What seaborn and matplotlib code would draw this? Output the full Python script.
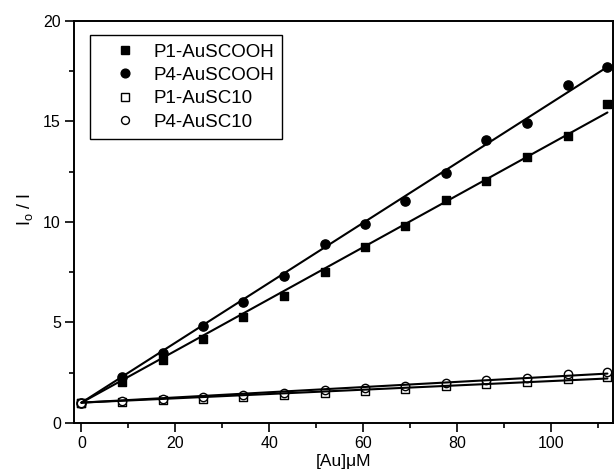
import numpy as np
import pandas as pd
import matplotlib
matplotlib.use("Agg")
import matplotlib.pyplot as plt
import seaborn as sns

# Gold concentration (µM) and quenching ratio I0/I for each probe/nanoparticle pair
au_conc = [0.0, 8.6, 17.3, 25.9, 34.5, 43.1, 51.8, 60.4, 69.0, 77.7, 86.3, 94.9, 103.6, 112.1]
p1_auscooh = [1.0, 2.03, 3.14, 4.19, 5.26, 6.29, 7.49, 8.73, 9.81, 11.09, 12.04, 13.25, 14.29, 15.87]
p4_auscooh = [1.0, 2.28, 3.49, 4.84, 6.03, 7.29, 8.92, 9.9, 11.06, 12.42, 14.08, 14.94, 16.8, 17.73]
p1_ausc10 = [1.0, 1.03, 1.12, 1.2, 1.28, 1.38, 1.49, 1.6, 1.7, 1.82, 1.94, 2.03, 2.18, 2.3]
p4_ausc10 = [1.0, 1.1, 1.2, 1.27, 1.37, 1.47, 1.61, 1.73, 1.83, 1.98, 2.15, 2.23, 2.41, 2.53]

series_names = ["P1-AuSCOOH", "P4-AuSCOOH", "P1-AuSC10", "P4-AuSC10"]
series_values = [p1_auscooh, p4_auscooh, p1_ausc10, p4_ausc10]

df = pd.concat(
    [pd.DataFrame({"conc": au_conc, "ratio": vals, "sample": name})
     for name, vals in zip(series_names, series_values)],
    ignore_index=True,
)

sns.set_style("ticks")
plt.rcParams["font.family"] = ["Liberation Sans", "DejaVu Sans"]
plt.rcParams["mathtext.fontset"] = "custom"
plt.rcParams["mathtext.rm"] = "Liberation Sans"
plt.rcParams["text.color"] = "black"
plt.rcParams["axes.labelcolor"] = "black"
plt.rcParams["xtick.color"] = "black"
plt.rcParams["ytick.color"] = "black"

fig = plt.figure(figsize=(6.14, 4.73), dpi=100)
ax = fig.add_axes([0.1205, 0.1063, 0.878, 0.8493])

styles = {
    "P1-AuSCOOH": dict(marker="s", facecolor="black", s=36),
    "P4-AuSCOOH": dict(marker="o", facecolor="black", s=44),
    "P1-AuSC10": dict(marker="s", facecolor="white", s=30),
    "P4-AuSC10": dict(marker="o", facecolor="white", s=36),
}

handles = []
for name in series_names:
    sub = df[df["sample"] == name]
    st = styles[name]
    sns.scatterplot(
        data=sub, x="conc", y="ratio", ax=ax,
        marker=st["marker"], s=st["s"], color=st["facecolor"],
        edgecolor="black", linewidth=1.0, zorder=2, legend=False,
    )
    handles.append(plt.Line2D(
        [], [], linestyle="none", marker=st["marker"],
        markersize=np.sqrt(st["s"]) * 0.95,
        markerfacecolor=st["facecolor"], markeredgecolor="black",
        markeredgewidth=1.0, label=name,
    ))
    # Stern-Volmer fit: I0/I = 1 + K[Au], intercept fixed at 1
    x = sub["conc"].to_numpy()
    y = sub["ratio"].to_numpy()
    k_sv = np.sum(x * (y - 1.0)) / np.sum(x * x)
    fit = pd.DataFrame({"conc": [x.min(), x.max()]})
    fit["ratio"] = 1.0 + k_sv * fit["conc"]
    sns.lineplot(data=fit, x="conc", y="ratio", ax=ax, color="black",
                 linewidth=1.5, zorder=3, legend=False)

ax.set_xlim(-1.6, 113.3)
ax.set_ylim(0, 20)
ax.set_xticks(np.arange(0, 101, 20))
ax.set_xticks(np.arange(0, 111, 10), minor=True)
ax.set_yticks(np.arange(0, 21, 5))
ax.set_yticks(np.arange(0, 20.1, 2.5), minor=True)

for side in ["top", "right", "bottom", "left"]:
    ax.spines[side].set_visible(True)
    ax.spines[side].set_linewidth(1.4)
    ax.spines[side].set_color("black")

ax.tick_params(axis="both", which="major", direction="out", length=6.5,
               width=1.2, labelsize=11.5, pad=3)
ax.tick_params(axis="both", which="minor", direction="out", length=3.5, width=1.2)
ax.tick_params(top=False, right=False, which="both")

ax.set_xlabel("[Au]\u03bcM", fontsize=12.5, labelpad=2.5)
ax.set_ylabel(r"I$_\mathregular{o}$ / I", fontsize=13)
ax.yaxis.set_label_coords(-0.072, 0.53)

leg = ax.legend(
    handles=handles, loc="upper left", bbox_to_anchor=(0.0297, 0.965),
    borderaxespad=0, frameon=True, fancybox=False, fontsize=13.5,
    handlelength=2.8, handletextpad=0.12, borderpad=0.45, labelspacing=0.33,
)
leg.get_frame().set_edgecolor("black")
leg.get_frame().set_linewidth(1.0)
leg.get_frame().set_alpha(1)

fig.savefig("out.png", dpi=100)
